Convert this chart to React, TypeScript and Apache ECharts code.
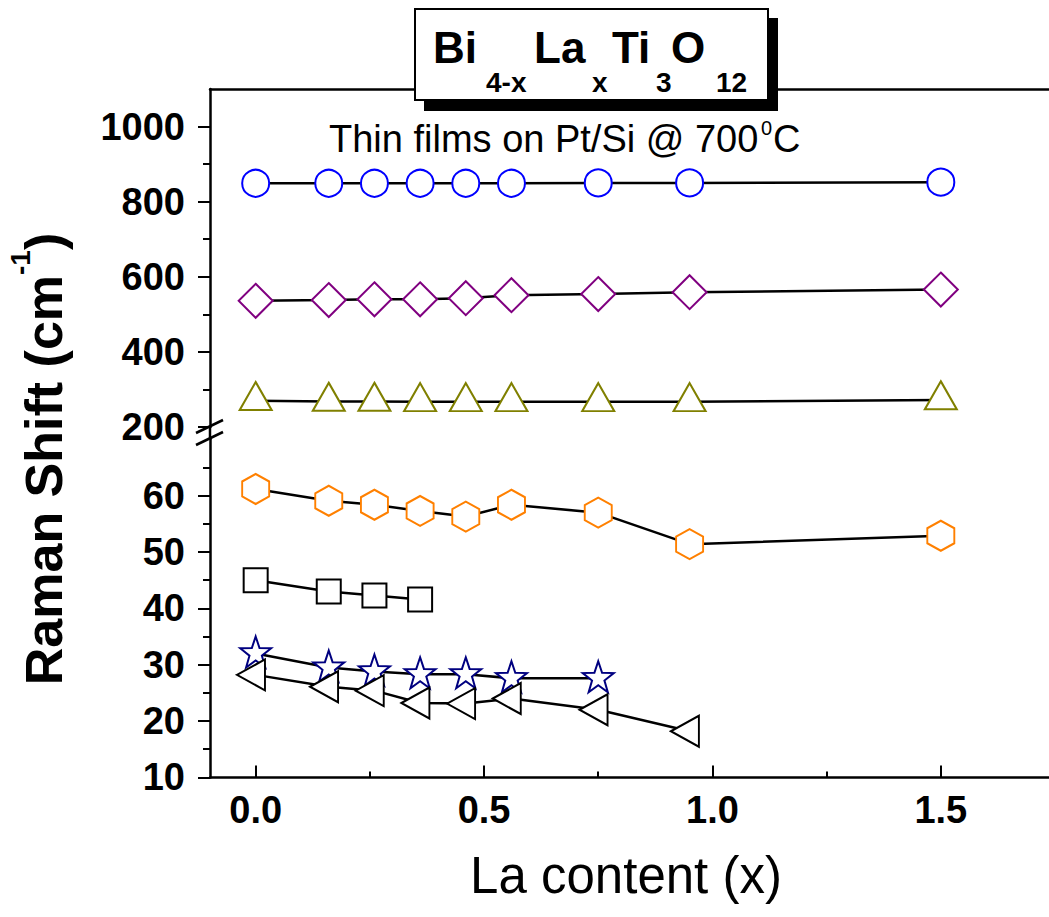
import React, { useEffect, useRef } from "react";
import * as echarts from "echarts";

// ---- data ----
const laContent = [0, 0.16, 0.26, 0.36, 0.46, 0.56, 0.75, 0.95, 1.5];
const modeCircle = [849, 849, 849, 849, 849, 849, 850, 850, 852];
const modeDiamond = [536, 538, 540, 540, 543, 551, 554, 559, 566];
const modeTriangle = [270, 268, 268, 267, 267, 267, 267, 267, 272];
const modeHexagon = [61.2, 59.1, 58.4, 57.3, 56.3, 58.4, 57.0, 51.4, 52.9];
const modeSquare = [45.0, 43.0, 42.3, 41.6];
const modeStar = [32.0, 29.5, 28.8, 28.3, 28.3, 27.6, 27.6];
const modeLeftTri = [28.2, 26.1, 25.4, 23.2, 23.1, 24.0, 22.0, 18.2];

const xTicks = [0, 0.5, 1, 1.5];
const xMinorTicks = [0.25, 0.75, 1.25];
const upperTicks = [200, 400, 600, 800, 1000];
const upperMinor = [300, 500, 700, 900];
const lowerTicks = [10, 20, 30, 40, 50, 60];
const lowerMinor = [15, 25, 35, 45, 55, 65];

const FONT = '"Liberation Sans", Arial, sans-serif';

const HEXAGON = "path://M50,0 L93.3,25 L93.3,75 L50,100 L6.7,75 L6.7,25 Z";
const STAR =
  "path://M50,0 L61.76,33.82 L97.55,34.55 L69.02,56.18 L79.39,90.45 L50,70 L20.61,90.45 L30.98,56.18 L2.45,34.55 L38.24,33.82 Z";
const LEFT_TRI = "path://M0,50 L100,0 L100,100 Z";

function mk(
  name: string,
  vals: number[],
  lower: boolean,
  symbol: string,
  size: number | number[],
  color: string,
  offset: number[] = [0, 0]
) {
  return {
    type: "line",
    name,
    xAxisIndex: lower ? 1 : 0,
    yAxisIndex: lower ? 2 : 0,
    data: vals.map((v, i) => [laContent[i], v]),
    symbol,
    symbolSize: size,
    symbolOffset: offset,
    showSymbol: true,
    silent: true,
    lineStyle: { color: "#000", width: 2.5 },
    itemStyle: { color: "#fff", borderColor: color, borderWidth: 2 },
    emphasis: { disabled: true },
  };
}

const axisLineStyle = { color: "#000", width: 2.5 };
const tickLineStyle = { color: "#000", width: 2 };

function txt(text: string, x: number, y: number, fontSize: number, bold: boolean, align = "left") {
  return {
    type: "text",
    z: 102,
    x,
    y,
    style: {
      text,
      fontSize,
      fontWeight: bold ? "bold" : "normal",
      fontFamily: FONT,
      fill: "#000",
      align,
      verticalAlign: "middle",
      textAlign: align,
      textVerticalAlign: "middle",
    },
  };
}

export default function App() {
  const ref = useRef<HTMLDivElement>(null);
  useEffect(() => {
    if (!ref.current) return;
    const chart = echarts.init(ref.current, null, { renderer: "svg" });
    const fsT = 52;
    const fsS = 28;
    const wMain = 7.89 * fsT;
    const wSup = 0.889 * fsS;
    const wPar = 0.333 * fsT;
    const start = -(wMain + wSup + wPar) / 2;

    const xBase = {
      type: "value",
      min: -0.1,
      max: 1.75,
      splitLine: { show: false },
    };
    const option: any = {
      animation: false,
      backgroundColor: "#fff",
      grid: [
        { left: 210, right: -6, top: 89, height: 338, outerBoundsMode: "none" },
        { left: 210, right: -6, top: 439.4, height: 338, outerBoundsMode: "none" },
      ],
      xAxis: [
        {
          ...xBase,
          gridIndex: 0,
          position: "top",
          axisLine: { show: true, onZero: false, lineStyle: axisLineStyle },
          axisTick: { show: false },
          axisLabel: { show: false },
        },
        {
          ...xBase,
          gridIndex: 1,
          position: "bottom",
          axisLine: { show: true, onZero: false, lineStyle: axisLineStyle },
          axisTick: {
            show: true,
            inside: true,
            length: 12,
            lineStyle: tickLineStyle,
            customValues: xTicks,
          },
          axisLabel: {
            show: true,
            customValues: xTicks,
            formatter: (v: number) => v.toFixed(1),
            fontSize: 38,
            fontWeight: "bold",
            fontFamily: FONT,
            color: "#000",
            margin: 14,
          },
        },
        {
          ...xBase,
          gridIndex: 1,
          position: "bottom",
          axisLine: { show: false, onZero: false },
          axisTick: {
            show: true,
            inside: true,
            length: 6,
            lineStyle: tickLineStyle,
            customValues: xMinorTicks,
          },
          axisLabel: { show: false },
        },
      ],
      yAxis: [
        {
          gridIndex: 0,
          type: "value",
          position: "left",
          min: 200,
          max: 1100,
          axisLine: { show: true, onZero: false, lineStyle: axisLineStyle },
          axisTick: {
            show: true,
            inside: false,
            length: 12,
            lineStyle: tickLineStyle,
            customValues: upperTicks,
          },
          axisLabel: {
            show: true,
            customValues: upperTicks,
            formatter: (v: number) => String(v),
            fontSize: 38,
            fontWeight: "bold",
            fontFamily: FONT,
            color: "#000",
            margin: 25,
          },
          splitLine: { show: false },
        },
        {
          gridIndex: 0,
          type: "value",
          position: "left",
          min: 200,
          max: 1100,
          axisLine: { show: false, onZero: false },
          axisTick: {
            show: true,
            inside: false,
            length: 7,
            lineStyle: tickLineStyle,
            customValues: upperMinor,
          },
          axisLabel: { show: false },
          splitLine: { show: false },
        },
        {
          gridIndex: 1,
          type: "value",
          position: "left",
          min: 10,
          max: 70,
          axisLine: { show: true, onZero: false, lineStyle: axisLineStyle },
          axisTick: {
            show: true,
            inside: false,
            length: 12,
            lineStyle: tickLineStyle,
            customValues: lowerTicks,
          },
          axisLabel: {
            show: true,
            customValues: lowerTicks,
            formatter: (v: number) => String(v),
            fontSize: 38,
            fontWeight: "bold",
            fontFamily: FONT,
            color: "#000",
            margin: 25,
          },
          splitLine: { show: false },
        },
        {
          gridIndex: 1,
          type: "value",
          position: "left",
          min: 10,
          max: 70,
          axisLine: { show: false, onZero: false },
          axisTick: {
            show: true,
            inside: false,
            length: 7,
            lineStyle: tickLineStyle,
            customValues: lowerMinor,
          },
          axisLabel: { show: false },
          splitLine: { show: false },
        },
      ],
      series: [
        mk("~850", modeCircle, false, "circle", 27, "#0000ff"),
        mk("~550", modeDiamond, false, "diamond", 34, "#800080"),
        mk("~270", modeTriangle, false, "triangle", [32, 28], "#808000", [0, -4.7]),
        mk("~58", modeHexagon, true, HEXAGON, [27, 30], "#ff8000"),
        mk("~43", modeSquare, true, "rect", 24, "#000000"),
        mk("~29", modeStar, true, STAR, 31, "#000080", [0, -1.5]),
        mk("~24", modeLeftTri, true, LEFT_TRI, [28, 31], "#000000", [-4.7, 0]),
      ],
      graphic: [
        // axis break
        { type: "line", z: 100, shape: { x1: 210, y1: 426, x2: 210, y2: 440 }, style: { stroke: "#000", lineWidth: 2.5 } },
        { type: "line", z: 100, shape: { x1: 196, y1: 433, x2: 223, y2: 420 }, style: { stroke: "#000", lineWidth: 2.5 } },
        { type: "line", z: 100, shape: { x1: 196, y1: 445, x2: 223, y2: 432 }, style: { stroke: "#000", lineWidth: 2.5 } },
        // title box with shadow
        { type: "rect", z: 100, shape: { x: 424, y: 18, width: 354, height: 93 }, style: { fill: "#000" } },
        { type: "rect", z: 101, shape: { x: 415, y: 9, width: 353, height: 91 }, style: { fill: "#fff", stroke: "#000", lineWidth: 2 } },
        txt("Bi", 433, 47, 44, true),
        txt("4-x", 486, 82, 28, true),
        txt("La", 534, 47, 44, true),
        txt("x", 592, 82, 28, true),
        txt("Ti", 612, 47, 44, true),
        txt("3", 656, 82, 28, true),
        txt("O", 671, 47, 44, true),
        txt("12", 716, 82, 28, true),
        // subtitle
        txt("Thin films on Pt/Si @ 700", 329, 139.4, 38, false),
        txt("0", 761, 128, 20, false),
        txt("C", 773, 139.4, 38, false),
        // x axis title
        txt("La content (x)", 626, 875, 51, false, "center"),
        // y axis title
        {
          type: "group",
          x: 44,
          y: 459,
          rotation: Math.PI / 2,
          z: 102,
          children: [
            txt("Raman Shift (cm", start, 0, fsT, true),
            txt("-1", start + wMain, -24, fsS, true),
            txt(")", start + wMain + wSup, 0, fsT, true),
          ],
        },
      ],
    };
    chart.setOption(option);
    return () => chart.dispose();
  }, []);
  return (
    <div
      ref={ref}
      style={{ position: "absolute", left: 0, top: 0, width: 1049, height: 917, background: "#fff" }}
    />
  );
}
